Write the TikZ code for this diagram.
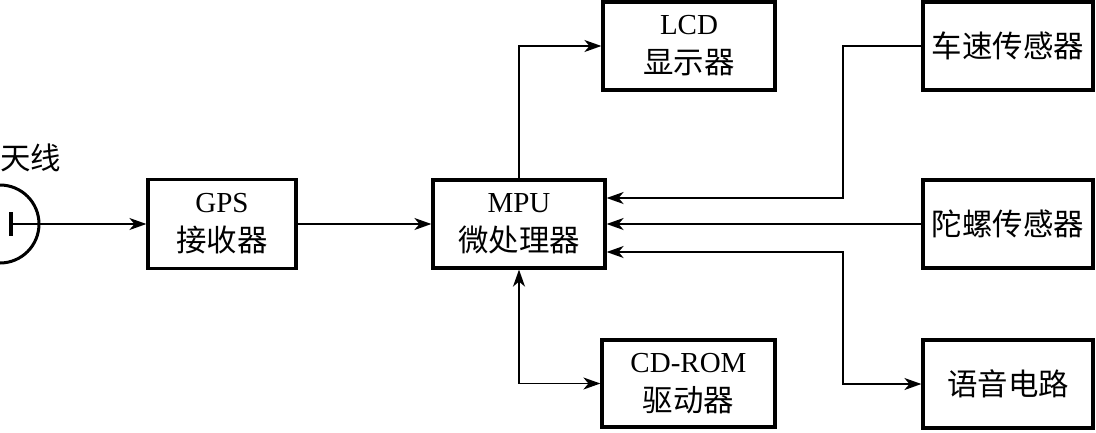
\documentclass[tikz,border=0pt]{standalone}
\usepackage{fontspec}
\setmainfont{Liberation Serif}
\newfontfamily\cjk[Scale=1.05]{Noto Sans CJK SC}
\usetikzlibrary{arrows.meta}
\begin{document}
\begin{tikzpicture}[x=1pt,y=-1pt,
  blk/.style={draw,line width=3.2pt,align=center,inner sep=0pt,
    font=\fontsize{29}{39}\selectfont},
  conn/.style={line width=1.8pt},
  tip/.tip={Stealth[length=17pt,width=12pt,inset=5pt]},
  arr/.style={-tip},
  darr/.style={tip-tip},
  lbl/.style={inner sep=0pt,font=\fontsize{29}{39}\selectfont\cjk}
]
\useasboundingbox (0,0) rectangle (1096,432);
\begin{scope}
\clip (0,0) rectangle (1096,432);
\draw[line width=3pt] (0,224) circle[radius=39pt];
\end{scope}
\coordinate (ant) at (11,224);
\draw[line width=3.4pt] (11,212) -- (11,236);
\node[lbl] (antlbl) at (31,158) {天线};

\node[blk,minimum width=148pt,minimum height=89pt] (gps) at (222,224) {GPS\\\cjk 接收器};
\node[blk,minimum width=172pt,minimum height=88pt] (mpu) at (519,224) {MPU\\\cjk 微处理器};
\node[blk,minimum width=172pt,minimum height=88pt] (lcd) at (689,46) {LCD\\\cjk 显示器};
\node[blk,minimum width=173pt,minimum height=87pt] (cd) at (688.5,383.5) {CD-ROM\\\cjk 驱动器};
\node[blk,minimum width=170pt,minimum height=88pt] (car) at (1008,46) {\cjk 车速传感器};
\node[blk,minimum width=170pt,minimum height=88pt] (gyro) at (1008,224) {\cjk 陀螺传感器};
\node[blk,minimum width=170pt,minimum height=88pt] (voice) at (1008,384) {\cjk 语音电路};

\coordinate (j1) at (843,198);
\coordinate (j2) at (843,252);

\draw[conn,arr] (ant) -- (gps.west);
\draw[conn,arr] (gps.east) -- (mpu.west);
\draw[conn,arr] (mpu.north) |- (lcd.west);
\draw[conn,darr] (mpu.south) |- (cd.west);
\draw[conn,arr] (car.west) -| (j1) -- (j1 -| mpu.east);
\draw[conn,arr] (gyro.west) -- (mpu.east);
\draw[conn,darr] (j2 -| mpu.east) -- (j2) |- (voice.west);
\end{tikzpicture}
\end{document}
